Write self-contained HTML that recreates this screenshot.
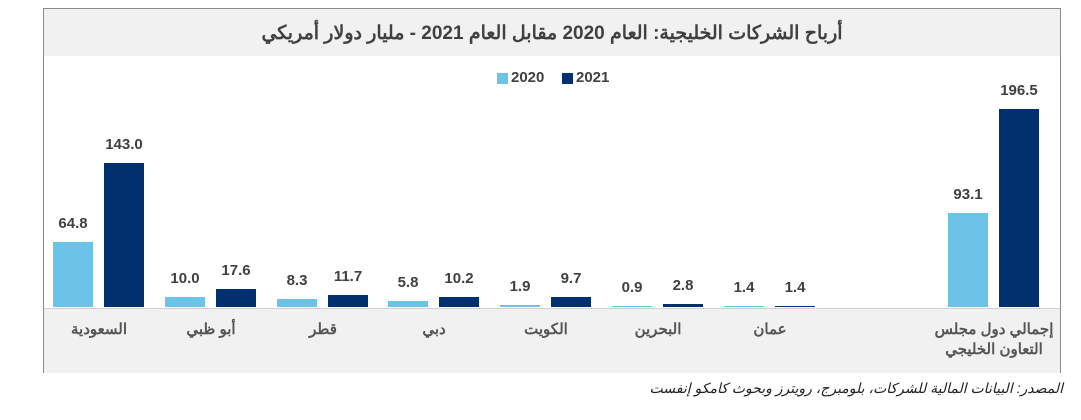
<!DOCTYPE html>
<html><head><meta charset="utf-8"><style>
body{margin:0;width:1081px;height:420px;background:#fff;position:relative;overflow:hidden;font-family:"Liberation Sans","Noto Sans CJK SC",sans-serif}
.box{position:absolute;left:43px;top:8px;width:1016px;height:363px;border:1px solid #8c8c8c;background:#fff}
.title{position:absolute;left:0;top:0;width:1016px;height:47px;background:#f1f1f1;text-align:center;line-height:50px;font-size:19px;font-weight:bold;color:#404040;direction:rtl}
.bottom{position:absolute;left:0;top:299px;width:1016px;height:64px;background:#f1f1f1;border-top:1px solid #d0d0d0}
.b{position:absolute;width:40px}
.l{background:#6cc3e8}.d{background:#00306e}
.v{position:absolute;width:70px;text-align:center;font-size:15px;font-weight:bold;color:#404040}
.c{position:absolute;width:120px;text-align:center;font-size:15px;font-weight:bold;color:#555;direction:rtl;line-height:20px}
.src{position:absolute;right:18px;top:380px;font-size:14px;font-style:italic;color:#222;direction:rtl}
</style></head><body>
<div class="box">
<div class="title">أرباح الشركات الخليجية: العام 2020 مقابل العام 2021 - مليار دولار أمريكي</div>
<div class="bottom"></div>
<div style="position:absolute;left:453px;top:64px;width:11px;height:11px;background:#6cc3e8"></div>
<div style="position:absolute;left:467px;top:60px;font-size:15px;font-weight:bold;color:#404040">2020</div>
<div style="position:absolute;left:518px;top:64px;width:11px;height:11px;background:#00306e"></div>
<div style="position:absolute;left:532px;top:60px;font-size:15px;font-weight:bold;color:#404040">2021</div>
</div>
<div id="g"></div>
<div class="src">المصدر: البيانات المالية للشركات، بلومبرج، رويترز وبحوث كامكو إنفست</div>
<script>
var d=[["السعودية",64.8,143.0,53],["أبو ظبي",10.0,17.6,165],["قطر",8.3,11.7,277],["دبي",5.8,10.2,388],["الكويت",1.9,9.7,500],["البحرين",0.9,2.8,612],["عمان",1.4,1.4,724],["إجمالي دول مجلس<br>التعاون الخليجي",93.1,196.5,948]];
var h="",base=307,k=1.007;
d.forEach(function(r){var x=r[3];
[[r[1],x,"l"],[r[2],x+51,"d"]].forEach(function(s){var ht=Math.max(1,Math.round(s[0]*k));
h+='<div class="b '+s[2]+'" style="left:'+s[1]+'px;top:'+(base-ht)+'px;height:'+ht+'px"></div>';
h+='<div class="v" style="left:'+(s[1]-15)+'px;top:'+(base-ht-27)+'px">'+s[0].toFixed(1)+'</div>';});
h+='<div class="c" style="left:'+(x-14)+'px;top:320px">'+r[0]+'</div>';});
document.getElementById("g").innerHTML=h;
</script>
</body></html>
